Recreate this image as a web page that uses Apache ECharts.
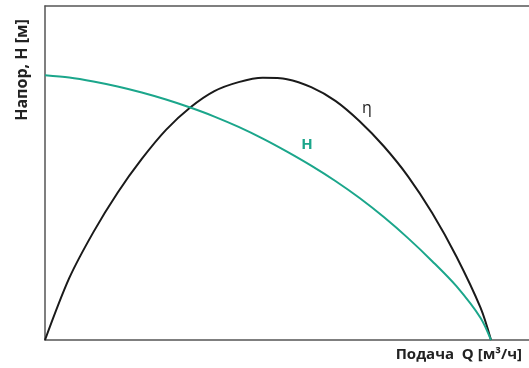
<!DOCTYPE html>
<html>
<head>
<meta charset="utf-8">
<script src="https://cdn.jsdelivr.net/npm/echarts@6/dist/echarts.min.js"></script>
<style>
  html, body { margin: 0; padding: 0; background: #fff; }
  #chart { width: 529px; height: 368px; }
</style>
</head>
<body>
<div id="chart"></div>
<script>
// Q in % of axis length, values in % of axis height
const qValues = [0, 5, 10, 15, 20, 25, 30, 35, 40, 45, 50, 55, 60, 65, 70, 75, 80, 85, 90, 92.15]
const etaValues = [0, 18.5, 32.3, 44.1, 54.2, 62.9, 69.6, 74.5, 77.2, 78.5, 78.1, 75.7, 71.6, 65.5, 58.0, 49.0, 38.0, 25.0, 9.6, 0]
const headValues = [79.3, 78.6, 77.4, 75.9, 74.1, 72.0, 69.6, 66.9, 63.8, 60.3, 56.4, 52.2, 47.6, 42.5, 36.8, 30.5, 23.6, 16.1, 6.6, 0]
const axisTitleY = 'Напор, Н [м]'
const axisTitleX = 'Подача  Q [м³/ч]'

const teal = '#1ba68b'
const axisColor = '#555'

const etaPoints = qValues.map((q, i) => [q, etaValues[i]])
const headPoints = qValues.map((q, i) => [q, headValues[i]])

const chart = echarts.init(document.getElementById('chart'))
const option = {
  animation: false,
  grid: { left: 45, right: 0, top: 6, bottom: 28 },
  xAxis: [
    {
      type: 'value', min: 0, max: 100, position: 'bottom',
      axisLine: { show: true, lineStyle: { color: axisColor, width: 1.5 } },
      axisTick: { show: false }, axisLabel: { show: false }, splitLine: { show: false }
    },
    {
      type: 'value', min: 0, max: 100, position: 'top',
      axisLine: { show: true, lineStyle: { color: axisColor, width: 1.5 } },
      axisTick: { show: false }, axisLabel: { show: false }, splitLine: { show: false }
    }
  ],
  yAxis: {
    type: 'value', min: 0, max: 100,
    axisLine: { show: true, lineStyle: { color: axisColor, width: 1.5 } },
    axisTick: { show: false }, axisLabel: { show: false }, splitLine: { show: false }
  },
  series: [
    {
      name: 'η', type: 'line', data: etaPoints, smooth: 0.3, symbol: 'none',
      lineStyle: { color: '#1a1a1a', width: 2 }
    },
    {
      name: 'H', type: 'line', data: headPoints, smooth: 0.3, symbol: 'none',
      lineStyle: { color: teal, width: 2 }
    }
  ],
  graphic: [
    {
      type: 'text', x: 22, y: 70, rotation: Math.PI / 2,
      style: {
        text: axisTitleY, fill: '#222', font: 'bold 16px "Open Sans"',
        align: 'center', verticalAlign: 'middle'
      }
    },
    {
      type: 'text', x: 522, y: 355,
      style: {
        text: axisTitleX, fill: '#222', font: 'bold 15px "Open Sans"',
        align: 'right', verticalAlign: 'middle'
      }
    },
    {
      type: 'text', x: 367, y: 108,
      style: {
        text: 'η', fill: '#222', font: '16px "Open Sans"',
        align: 'center', verticalAlign: 'middle'
      }
    },
    {
      type: 'text', x: 307, y: 145,
      style: {
        text: 'H', fill: teal, font: 'bold 15px "Open Sans"',
        align: 'center', verticalAlign: 'middle'
      }
    }
  ]
}
chart.setOption(option)
</script>
</body>
</html>
